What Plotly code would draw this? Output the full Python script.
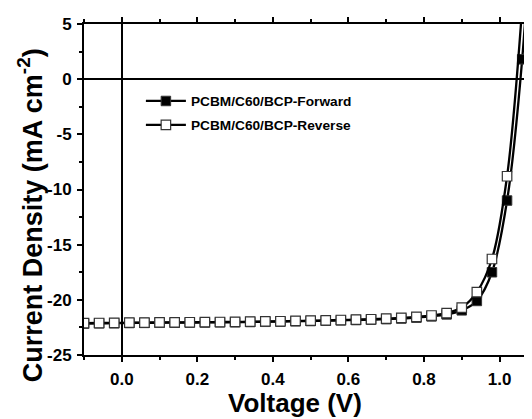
import plotly.graph_objects as go

voltage = [-0.10, -0.06, -0.02, 0.02, 0.06, 0.10, 0.14, 0.18, 0.22, 0.26,
           0.30, 0.34, 0.38, 0.42, 0.46, 0.50, 0.54, 0.58, 0.62, 0.66,
           0.70, 0.74, 0.78, 0.82, 0.86, 0.90, 0.94, 0.98, 1.02, 1.06, 1.10]

j_reverse = [-22.12, -22.10, -22.09, -22.07, -22.06, -22.05, -22.04, -22.03, -22.02, -22.01,
             -22.00, -21.98, -21.96, -21.94, -21.91, -21.89, -21.86, -21.83, -21.80, -21.76,
             -21.71, -21.64, -21.55, -21.42, -21.20, -20.70, -19.30, -16.30, -8.80, 6.5, 30.0]

j_forward = [-22.15, -22.13, -22.12, -22.10, -22.09, -22.08, -22.07, -22.06, -22.05, -22.04,
             -22.03, -22.01, -21.99, -21.97, -21.94, -21.92, -21.89, -21.86, -21.83, -21.79,
             -21.75, -21.69, -21.61, -21.50, -21.32, -20.95, -20.10, -17.50, -11.00, 1.80, 24.0]

x_tickvals = [0.0, 0.2, 0.4, 0.6, 0.8, 1.0]
x_ticktext = ["0.0", "0.2", "0.4", "0.6", "0.8", "1.0"]
y_tickvals = [5, 0, -5, -10, -15, -20, -25]
y_ticktext = ["5", "0", "-5", "-10", "-15", "-20", "-25"]

name_fwd = "PCBM/C60/BCP-Forward"
name_rev = "PCBM/C60/BCP-Reverse"
x_title = "Voltage (V)"
y_title = "Current Density (mA cm<sup>-2</sup>)"

font_family = "Liberation Sans, Arial, sans-serif"

fig = go.Figure()
fig.add_trace(go.Scatter(
    x=voltage, y=j_forward, name=name_fwd, mode="lines+markers", legendgroup="f",
    line=dict(color="black", width=2.3, shape="spline"),
    marker=dict(symbol="square", size=9.5, color="black", line=dict(color="#333", width=1)),
))
fig.add_trace(go.Scatter(
    x=voltage, y=j_reverse, name=name_rev, mode="lines+markers", legendgroup="r",
    line=dict(color="black", width=2.3, shape="spline"),
    marker=dict(symbol="square", size=9.5, color="white", line=dict(color="#333", width=1.2)),
))

axis_common = dict(
    showline=True, linecolor="black", linewidth=2, mirror="ticks",
    ticks="outside", ticklen=5, tickwidth=2, tickcolor="black",
    showgrid=False, zeroline=True, zerolinecolor="black", zerolinewidth=2,
    tickfont=dict(family=font_family, size=17, color="black"),
    automargin=False,
)

fig.update_xaxes(
    range=[-0.1, 1.086], tickmode="array", tickvals=x_tickvals,
    ticktext=["<b>%s</b>" % t for t in x_ticktext], ticklabelstandoff=3,
    minor=dict(dtick=0.1, tick0=0, ticks="outside", ticklen=3, tickwidth=1.5, tickcolor="black"),
    **axis_common,
)
fig.update_yaxes(
    range=[-25, 5], tickmode="array", tickvals=y_tickvals,
    ticktext=["<b>%s</b>" % t for t in y_ticktext], ticklabelstandoff=2,
    minor=dict(dtick=2.5, tick0=0, ticks="outside", ticklen=3, tickwidth=1.5, tickcolor="black"),
    **axis_common,
)

fig.add_annotation(
    text="<b>%s</b>" % x_title, xref="paper", yref="paper",
    x=0.472, y=-0.145, xanchor="center", yanchor="middle", showarrow=False,
    font=dict(family=font_family, size=26, color="black"),
)
fig.add_annotation(
    text="<b>%s</b>" % y_title, xref="paper", yref="paper", textangle=-90,
    x=-0.12, y=0.423, xanchor="center", yanchor="middle", showarrow=False,
    font=dict(family=font_family, size=27, color="black"),
)

# The page body has an 8 px margin, so the figure is shrunk by 8 px to fit the window.
fig.update_layout(
    width=524, height=411,
    margin=dict(l=76, r=0, t=16, b=64),
    paper_bgcolor="white", plot_bgcolor="white",
    showlegend=True,
    legend=dict(
        x=0.127, y=0.814, xanchor="left", yanchor="top",
        bgcolor="rgba(0,0,0,0)", borderwidth=0,
        font=dict(family=font_family, size=13.7, color="black", weight="bold"),
        itemwidth=40, tracegroupgap=3,
    ),
)

fig.write_html("out.html")
